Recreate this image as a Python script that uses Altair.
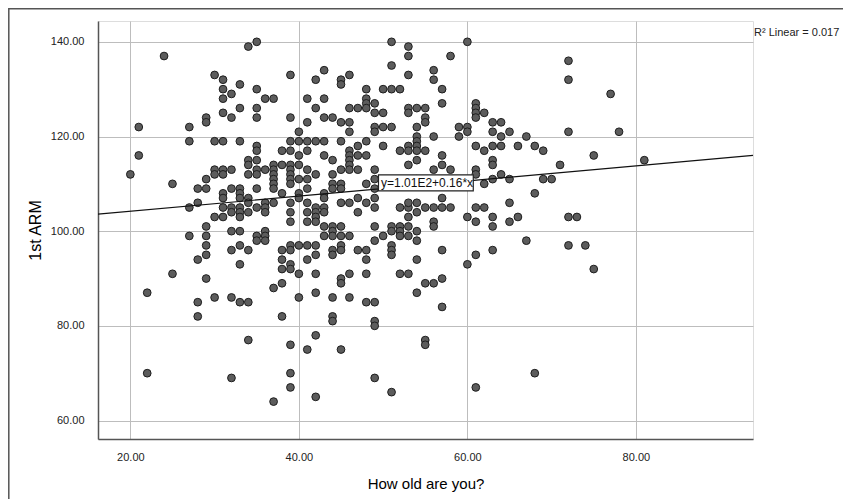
import altair as alt
import pandas as pd

# ---- data (age, 1st ARM) ----
age_a = [24,34,30,31,33,31,32,31,33,31,32,29,29,21,27,27,30,31,33,21,34,34,20,30,30,31,31,32,34,29,25,28,29,32,33,31,31,33,33,34,34,28,27,31,32,33,32,33,34,30,31,33,29]
arm_a = [137,139,133,132,131,130,129,128,126,125,124,124,123,122,122,119,119,119,119,116,115,114,112,113,112,113,112,113,112,111,110,109,109,109,109,108,107,108,107,107,106,106,105,105,105,105,104,104,104,103,103,103,101]

age_b = [32,33,27,29,29,32,33,34,28,29,33,25,29,22,28,28,30,32,33,34,34,22,32]
arm_b = [100,100,99,99,97,96,97,96,94,95,93,91,90,87,85,82,86,86,85,85,77,70,69]

age_c = [35,51,53,53,51,39,43,42,45,45,46,53,35,48,50,51,52,36,37,41,43,48,48,49,35,42,46,47,48,49,50,53,53,35,39,43,44,45,46,41,46,49,49,50,51,40,35,35,35,
         39,40,41,42,43,45,47,48,50,52,53,53,38,39,41,40,43,46,46,47,48,53,44,37,38,39,40,37,37,37,37,37,39,39,39,39,36,35,35,41,42,45,46,46,46,47,44,49,40,41,
         44,44,45,45,43,43,41,40,40,38,35,48,49,49,35,36,36,36,37,39,39,39,41,41,42,42,42,43,43,45,46,47,48,47,49,49,52,53,53,53,42,41,43,44,45,49,51,52,53]
arm_c = [140,140,139,137,135,133,134,132,132,131,133,133,130,130,130,130,130,128,128,128,128,128,127,127,126,126,126,126,126,125,125,126,125,124,124,124,124,123,123,123,121,122,121,122,122,121,118,117,115,
         119,119,119,119,119,119,118,119,118,117,118,117,117,117,117,116,116,117,116,116,116,114,115,114,114,114,114,113,112,111,110,109,113,112,111,110,113,113,112,113,112,113,115,114,113,113,112,113,111,111,
         110,109,110,109,108,107,109,108,107,108,109,110,111,109,105,106,105,104,106,106,104,102,106,104,105,104,103,105,104,106,106,107,106,104,107,105,105,105,106,103,102,102,101,101,101,101,101,101,101]

age_d = [54,54,54,54,54,54,54,54,54,54,54,54,54,54]
arm_d = [126,122,120,119,118,117,115,111,106,104,100,98,94,87]

age_e = [35,35,36,36,36,43,44,44,45,46,49,50,51,52,52,53,39,39,40,41,42,38,42,44,44,45,45,47,48,51,51,51,38,41,48,38,39,39,40,42,45,45,46,48,52,53,37,38,40,42,44,46,48,49,38,44,44,49,49,42,39,41,45,39,49,39,51,37,42]
arm_e = [99,98,100,99,98,99,100,99,99,99,98,99,100,100,99,99,97,96,97,97,97,96,95,96,95,97,96,96,96,97,96,95,94,94,94,92,93,92,91,91,90,89,91,91,91,91,88,89,86,87,86,86,85,85,82,82,81,81,80,78,76,75,75,70,69,67,66,64,65]

age_f = [60,58,56,56,57,57,72,72,55,55,55,61,61,61,61,62,63,64,59,60,60,59,56,63,64,65,67,72,61,62,63,64,66,68,69,55,57,63,63,71,56,57,58,61,61,64,63,62,65,69,70,68,57,55,56,57,58,61,62,65,60,61,63,63,65,66,72,73,56,56]
arm_f = [140,137,134,132,130,127,136,132,126,124,123,127,126,125,124,125,123,123,122,122,121,120,120,121,120,121,120,121,118,117,118,118,118,118,117,117,116,115,114,114,113,114,113,113,112,112,111,110,111,111,111,108,107,105,105,105,105,105,105,106,103,102,103,101,102,103,103,103,102,101]

age_g = [67,72,57,61,63,60,55,56,57,57,55,55,68,61,77,78,75,81,74,75]
arm_g = [98,97,96,95,96,93,89,89,90,84,77,76,70,67,129,121,116,115,97,92]

ages = age_a + age_b + age_c + age_d + age_e + age_f + age_g
arms = arm_a + arm_b + arm_c + arm_d + arm_e + arm_f + arm_g

x_ticks = [20, 40, 60, 80]
y_ticks = [60, 80, 100, 120, 140]
x_domain = [16.16, 93.9]
y_domain = [56.1, 144.4]

fit_intercept = 101.0
fit_slope = 0.16
fit_label = "y=1.01E2+0.16*x"
r2_label = "R\u00b2 Linear = 0.017"

# label box in data units
box_x = [49.45, 60.7]
box_y = [108.5, 111.9]
label_pos = [49.75, 110.2]

W, H = 655, 418
FONT = "Liberation Sans"

pts = pd.DataFrame({"age": ages, "arm": arms})
fit = pd.DataFrame({"age": x_domain,
                    "arm": [fit_intercept + fit_slope * v for v in x_domain]})
box = pd.DataFrame({"x": [box_x[0]], "x2": [box_x[1]], "y": [box_y[0]], "y2": [box_y[1]]})
lab = pd.DataFrame({"x": [label_pos[0]], "y": [label_pos[1]], "t": [fit_label]})

xs = alt.Scale(domain=x_domain, nice=False, zero=False)
ys = alt.Scale(domain=y_domain, nice=False, zero=False)

xaxis = alt.Axis(values=x_ticks, format=".2f", title="How old are you?", grid=True,
                 gridColor="#bdbdbd", gridWidth=1, ticks=False, domainColor="#555555",
                 domainWidth=1.5, labelFont=FONT, labelFontSize=11, labelColor="#222222",
                 labelPadding=12, titleFont=FONT, titleFontSize=15, titleFontWeight="normal",
                 titleColor="#000000", titlePadding=14)
yaxis = alt.Axis(values=y_ticks, format=".2f", title="1st ARM", grid=True,
                 gridColor="#bdbdbd", gridWidth=1, ticks=False, domainColor="#555555",
                 domainWidth=1.5, labelFont=FONT, labelFontSize=11, labelColor="#222222",
                 labelPadding=14, titleFont=FONT, titleFontSize=16, titleFontWeight="normal",
                 titleColor="#000000", titlePadding=7)

frame = alt.Chart(pd.DataFrame({"a": [0]})).mark_rect(
    fill="transparent", stroke="#555555", strokeWidth=1.5
).encode(x=alt.value(-89.2), x2=alt.value(W + 120), y=alt.value(-12.2), y2=alt.value(H + 120))

points = alt.Chart(pts).mark_point(
    shape="circle", filled=True, size=60, fill="#5c5c5c", stroke="#1e1e1e",
    strokeWidth=1, opacity=1
).encode(x=alt.X("age:Q", scale=xs, axis=xaxis), y=alt.Y("arm:Q", scale=ys, axis=yaxis))

line = alt.Chart(fit).mark_line(color="#111111", strokeWidth=1.2).encode(
    x=alt.X("age:Q", scale=xs), y=alt.Y("arm:Q", scale=ys))

boxm = alt.Chart(box).mark_rect(fill="white", stroke="#222222", strokeWidth=1.2).encode(
    x=alt.X("x:Q", scale=xs), x2="x2", y=alt.Y("y:Q", scale=ys), y2="y2")

labm = alt.Chart(lab).mark_text(align="left", baseline="middle", font=FONT, fontSize=12,
                                color="#111111").encode(
    x=alt.X("x:Q", scale=xs), y=alt.Y("y:Q", scale=ys), text="t:N")

r2 = alt.Chart(pd.DataFrame({"t": [r2_label]})).mark_text(
    align="left", baseline="alphabetic", font=FONT, fontSize=11, color="#222222"
).encode(x=alt.value(W + 1), y=alt.value(15), text="t:N")

chart = alt.layer(frame, points, line, boxm, labm, r2).properties(
    width=W, height=H,
    autosize=alt.AutoSizeParams(type="none"),
    padding={"left": 90, "top": 13, "right": 90, "bottom": 60},
).configure_view(stroke=None).configure(background="white")

chart.save("out.html", embed_options={"renderer": "svg", "actions": False})
